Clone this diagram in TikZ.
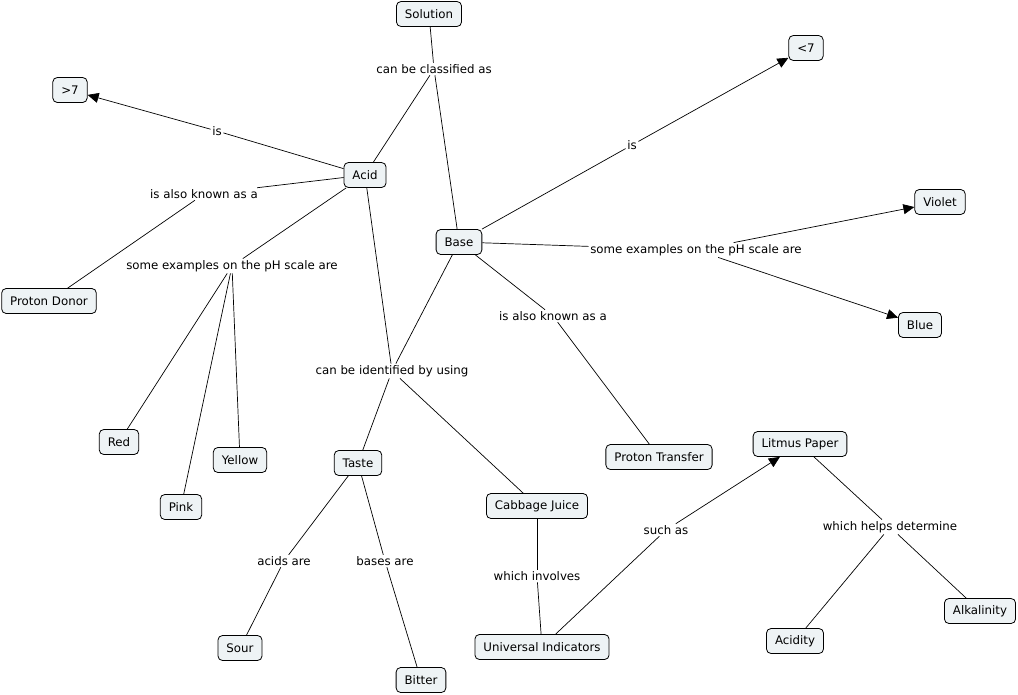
\documentclass[tikz,border=0pt]{standalone}
\usepackage{fontspec}
\setmainfont{DejaVu Sans}
\usetikzlibrary{arrows.meta}
\definecolor{cfill}{HTML}{EEF3F5}
\tikzset{
  concept/.style={draw=black, fill=cfill, rounded corners=4.5pt, line width=0.8pt,
    minimum height=25pt, inner xsep=8.5pt, inner ysep=2pt, font=\fontsize{11.8}{13}\selectfont},
  lab/.style={fill=white, inner sep=1.5pt, font=\fontsize{11.8}{13}\selectfont},
  link/.style={line width=0.7pt, draw=black},
  arr/.style={link, -{Triangle[length=11pt,width=10pt]}}
}
\begin{document}
\begin{tikzpicture}[x=1pt,y=-1pt]
\useasboundingbox (0,0) rectangle (1018,694);
% concepts
\node[concept] (sol) at (429,14) {Solution};
\node[concept] (gt) at (70,90) {>7};
\node[concept] (lt) at (806,48) {<7};
\node[concept] (acid) at (365,175) {Acid};
\node[concept] (violet) at (940,202) {Violet};
\node[concept] (base) at (459,242) {Base};
\node[concept] (pdonor) at (49,301) {Proton Donor};
\node[concept] (blue) at (920,325) {Blue};
\node[concept] (red) at (119,442) {Red};
\node[concept] (yellow) at (240,460) {Yellow};
\node[concept] (pink) at (181,507) {Pink};
\node[concept] (taste) at (358,463) {Taste};
\node[concept] (ptrans) at (659,457) {Proton Transfer};
\node[concept] (litmus) at (800,444) {Litmus Paper};
\node[concept] (cabbage) at (537,506) {Cabbage Juice};
\node[concept] (sour) at (240,648) {Sour};
\node[concept] (univ) at (542,647) {Universal Indicators};
\node[concept] (bitter) at (421,680) {Bitter};
\node[concept] (acidity) at (795,641) {Acidity};
\node[concept] (alk) at (980,611) {Alkalinity};
% linking phrases
\node[lab] (l1) at (434,69) {can be classified as};
\node[lab] (l2) at (217,131) {is};
\node[lab] (l3) at (632,145) {is};
\node[lab] (l4) at (204,194) {is also known as a};
\node[lab] (l5) at (232,266) {some examples on the pH scale are};
\node[lab] (l6) at (696,250) {some examples on the pH scale are};
\node[lab] (l7) at (553,316) {is also known as a};
\node[lab] (l8) at (392,371) {can be identified by using};
\node[lab] (l9) at (666,530) {such as};
\node[lab] (l10) at (890,527) {which helps determine};
\node[lab] (l11) at (284,561) {acids are};
\node[lab] (l12) at (385,561) {bases are};
\node[lab] (l13) at (537,576) {which involves};
% connectors
\draw[link] (sol) -- (l1);
\draw[link] (l1) -- (acid);
\draw[link] (l1) -- (base);
\draw[link] (acid) -- (l2);
\draw[arr] (l2) -- (gt);
\draw[link] (base) -- (l3);
\draw[arr] (l3) -- (lt);
\draw[link] (acid) -- (l4);
\draw[link] (l4) -- (pdonor);
\draw[link] (acid) -- (l5);
\draw[link] (l5) -- (red);
\draw[link] (l5) -- (pink);
\draw[link] (l5) -- (yellow);
\draw[link] (base) -- (l6);
\draw[arr] (l6) -- (violet);
\draw[arr] (l6) -- (blue);
\draw[link] (base) -- (l7);
\draw[link] (l7) -- (ptrans);
\draw[link] (acid) -- (l8);
\draw[link] (base) -- (l8);
\draw[link] (l8) -- (taste);
\draw[link] (l8) -- (cabbage);
\draw[link] (taste) -- (l11);
\draw[link] (l11) -- (sour);
\draw[link] (taste) -- (l12);
\draw[link] (l12) -- (bitter);
\draw[link] (cabbage) -- (l13);
\draw[link] (l13) -- (univ);
\draw[link] (univ) -- (l9);
\draw[arr] (l9) -- (litmus);
\draw[link] (litmus) -- (l10);
\draw[link] (l10) -- (acidity);
\draw[link] (l10) -- (alk);
\end{tikzpicture}
\end{document}
